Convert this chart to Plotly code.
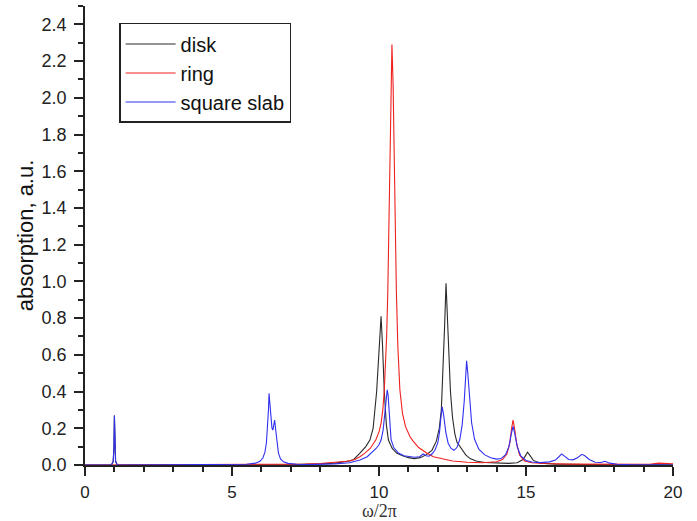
import plotly.graph_objects as go

# ---- data ----
disk_x = [0, 0.9, 0.96, 0.985, 1.0, 1.015, 1.04, 1.1, 3, 6, 7, 8, 8.5, 9.0, 9.14, 9.35, 9.55, 9.69, 9.8,
          9.92, 10.0, 10.07, 10.12, 10.18, 10.25, 10.32, 10.45, 10.6, 10.8, 11.0, 11.2, 11.4, 11.6, 11.8,
          11.95, 12.05, 12.12, 12.18, 12.23, 12.28, 12.32, 12.37, 12.43, 12.5, 12.58, 12.65, 12.75, 12.85,
          12.95, 13.1, 13.3, 13.6, 14.0, 14.4, 14.7, 14.9, 15.0, 15.05, 15.12, 15.25, 15.5, 16, 17, 18, 20]
disk_y = [0, 0, 0.02, 0.1, 0.27, 0.1, 0.02, 0, 0, 0.001, 0.002, 0.006, 0.01, 0.022, 0.03, 0.065, 0.1, 0.136, 0.2,
          0.4, 0.62, 0.81, 0.65, 0.4, 0.22, 0.136, 0.09, 0.065, 0.05, 0.04, 0.035, 0.04, 0.055, 0.08,
          0.13, 0.2, 0.3, 0.5, 0.75, 0.99, 0.82, 0.6, 0.4, 0.26, 0.17, 0.125, 0.1, 0.08,
          0.055, 0.035, 0.022, 0.014, 0.01, 0.009, 0.012, 0.03, 0.055, 0.07, 0.055, 0.025, 0.01, 0.005, 0.003, 0.002, 0.001]

ring_x = [0, 6.0, 7.0, 7.5, 8.0, 8.5, 8.9, 9.18, 9.35, 9.52, 9.7, 9.89, 10.0, 10.07, 10.13, 10.18, 10.22, 10.26,
          10.3, 10.35, 10.4, 10.44, 10.48, 10.53, 10.59, 10.64, 10.71, 10.8, 10.9, 11.05, 11.16, 11.35, 11.62,
          11.85, 12.1, 12.5, 13.0, 13.5, 14.0, 14.2, 14.35, 14.45, 14.51, 14.56, 14.61, 14.68, 14.78, 14.95,
          15.2, 15.6, 16.5, 17.5, 18.5, 19.2, 19.5, 19.8, 20]
ring_y = [0, 0.001, 0.003, 0.005, 0.008, 0.013, 0.02, 0.03, 0.045, 0.065, 0.09, 0.136, 0.18, 0.227, 0.3, 0.41, 0.53, 0.7,
          0.95, 1.5, 2.07, 2.29, 2.07, 1.5, 0.95, 0.65, 0.41, 0.28, 0.21, 0.155, 0.13, 0.095, 0.065,
          0.045, 0.035, 0.022, 0.015, 0.012, 0.018, 0.03, 0.06, 0.12, 0.2, 0.245, 0.2, 0.12, 0.055, 0.022,
          0.012, 0.008, 0.005, 0.004, 0.003, 0.004, 0.01, 0.01, 0.006]

slab_x = [0, 0.9, 0.96, 0.985, 1.0, 1.015, 1.04, 1.1, 4.5, 5.5, 5.8, 5.95, 6.05, 6.12, 6.17, 6.21, 6.24, 6.26,
          6.29, 6.32, 6.36, 6.39, 6.42, 6.45, 6.48, 6.52, 6.58, 6.65, 6.75, 6.9, 7.2, 7.6, 8.0, 8.5, 9.0,
          9.35, 9.6, 9.75, 9.9, 10.0, 10.07, 10.14, 10.2, 10.25, 10.28, 10.31, 10.35, 10.41, 10.5, 10.66,
          10.85, 11.0, 11.2, 11.38, 11.5, 11.6, 11.7, 11.8, 11.9, 12.0, 12.06, 12.1, 12.15, 12.2, 12.27,
          12.35, 12.45, 12.55, 12.65, 12.75, 12.83, 12.9, 12.95, 12.98, 13.02, 13.08, 13.15, 13.25, 13.4,
          13.6, 13.8, 14.0, 14.15, 14.3, 14.42, 14.5, 14.56, 14.62, 14.7, 14.82, 15.0, 15.2, 15.5, 15.8,
          16.0, 16.12, 16.21, 16.3, 16.45, 16.6, 16.75, 16.9, 17.0, 17.15, 17.35, 17.55, 17.69, 17.85,
          18.1, 18.5, 19, 20]
slab_y = [0, 0, 0.02, 0.1, 0.27, 0.1, 0.02, 0, 0.001, 0.004, 0.01, 0.02, 0.038, 0.07, 0.12, 0.2, 0.3, 0.39,
          0.34, 0.25, 0.2, 0.19, 0.215, 0.245, 0.2, 0.13, 0.065, 0.033, 0.017, 0.009, 0.004, 0.002, 0.003, 0.006, 0.012,
          0.027, 0.045, 0.065, 0.09, 0.11, 0.136, 0.19, 0.27, 0.37, 0.41, 0.38, 0.26, 0.14, 0.095, 0.065,
          0.05, 0.045, 0.042, 0.045, 0.06, 0.05, 0.048, 0.06, 0.08, 0.12, 0.18, 0.25, 0.317, 0.27, 0.18,
          0.12, 0.09, 0.08, 0.095, 0.14, 0.22, 0.35, 0.49, 0.567, 0.5, 0.36, 0.23, 0.14, 0.085,
          0.055, 0.04, 0.032, 0.035, 0.055, 0.1, 0.17, 0.21, 0.17, 0.1, 0.05, 0.025, 0.016, 0.013, 0.017,
          0.027, 0.045, 0.06, 0.05, 0.03, 0.028, 0.04, 0.058, 0.05, 0.03, 0.015, 0.014, 0.02, 0.01,
          0.004, 0.002, 0.001, 0]

series_names = ["disk", "ring", "square slab"]
x_ticks = [0, 5, 10, 15, 20]
y_ticks = [0.0, 0.2, 0.4, 0.6, 0.8, 1.0, 1.2, 1.4, 1.6, 1.8, 2.0, 2.2, 2.4]
x_title = "ω/2π"
y_title = "absorption, a.u."

fig = go.Figure()
for name, xs, ys, col in [(series_names[0], disk_x, disk_y, "#2a2a2a"),
                          (series_names[1], ring_x, ring_y, "#f02020"),
                          (series_names[2], slab_x, slab_y, "#3030f0")]:
    fig.add_trace(go.Scatter(x=xs, y=ys, mode="lines", name=name,
                             line=dict(color=col, width=1.1)))

font_sans = "Liberation Sans, Arial, sans-serif"
fig.update_layout(
    width=697, height=521,
    margin=dict(l=85, r=24, t=6, b=56),
    paper_bgcolor="white", plot_bgcolor="white",
    font=dict(family=font_sans, size=16, color="#222"),
    showlegend=True,
    legend=dict(x=0.058, y=0.963, xanchor="left", yanchor="top",
                bgcolor="white", bordercolor="#222", borderwidth=1.5,
                font=dict(family=font_sans, size=20, color="#111"),
                itemwidth=50, tracegroupgap=0),
    xaxis=dict(range=[0, 20], tickvals=x_ticks, ticktext=[str(v) for v in x_ticks],
               ticks="outside", ticklen=9, tickwidth=1.5, tickcolor="#222",
               minor=dict(dtick=1, ticks="outside", ticklen=5, tickwidth=1.5, tickcolor="#222", showgrid=False),
               showline=True, linecolor="#222", linewidth=1.5, showgrid=False, zeroline=False,
               automargin=False, ticklabelstandoff=2,
               tickfont=dict(size=17)),
    yaxis=dict(range=[0, 2.5], tickvals=y_ticks, ticktext=[f"{v:.1f}" for v in y_ticks],
               ticks="outside", ticklen=9, tickwidth=1.5, tickcolor="#222",
               minor=dict(dtick=0.1, tick0=0, ticks="outside", ticklen=5, tickwidth=1.5, tickcolor="#222", showgrid=False),
               showline=True, linecolor="#222", linewidth=1.5, showgrid=False, zeroline=False,
               automargin=False, ticklabelstandoff=4,
               tickfont=dict(size=18),
               title=dict(text=y_title, standoff=2,
                          font=dict(family=font_sans, size=22, color="#111"))),
    annotations=[dict(text=x_title, xref="paper", yref="paper", x=0.5, y=-0.1,
                      xanchor="center", yanchor="middle", showarrow=False,
                      font=dict(family="Liberation Serif, Times New Roman, serif", size=18, color="#333"))],
)

fig.write_html("out.html", config={"displayModeBar": False},
               post_script="document.body.style.margin='0';document.body.style.padding='0';")
